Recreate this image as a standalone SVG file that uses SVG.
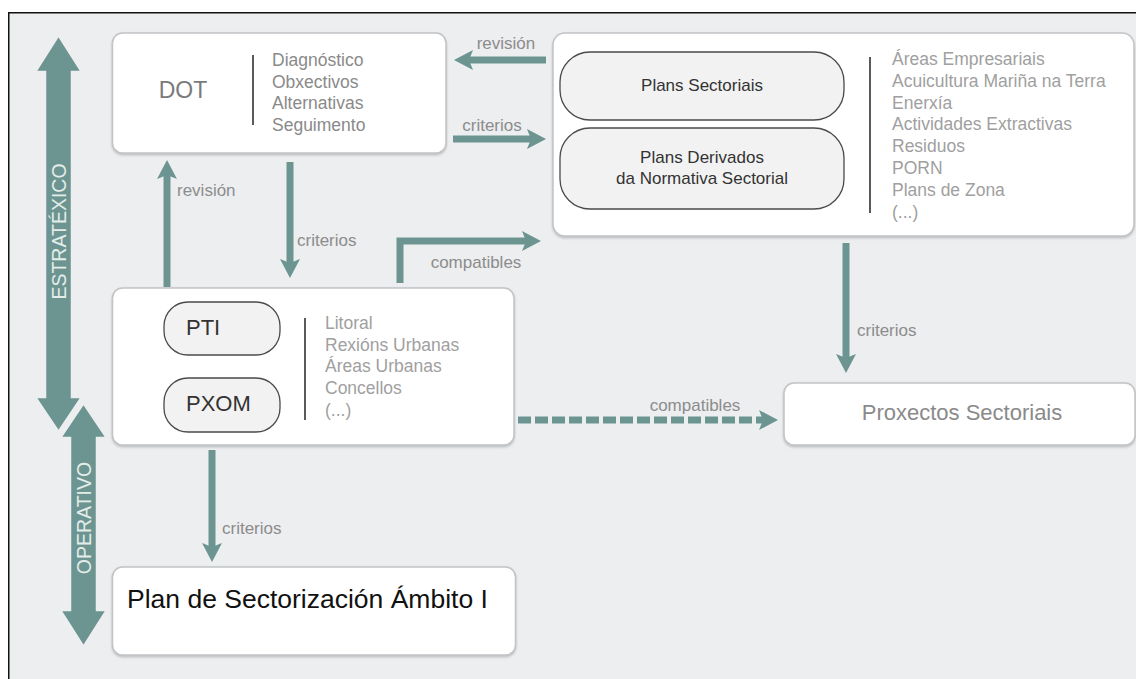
<svg xmlns="http://www.w3.org/2000/svg" width="1136" height="679" viewBox="0 0 1136 679">
<style>
.box{fill:#fff;stroke:#c2c4c6;stroke-width:1.5;filter:url(#sh)}
.pill{fill:#f2f2f2;stroke:#4a4a4a;stroke-width:1.3}
.sep{stroke:#5a5a5a;stroke-width:2}
.con{fill:none;stroke:#6c9591;stroke-width:7;marker-end:url(#ah)}
.dash{stroke-dasharray:13 4}
.lbl{font-family:"Liberation Sans",Arial,sans-serif;font-size:17px;fill:#8c8c8c}
.lst{font-family:"Liberation Sans",Arial,sans-serif;font-size:17.5px;fill:#a0a0a0}
.dk{font-family:"Liberation Sans",Arial,sans-serif;fill:#333}
.big{fill:#6c9591;stroke:#eceef0;stroke-width:2.5}
.vt{font-family:"Liberation Sans",Arial,sans-serif;font-size:19.5px;fill:#e4ecea;text-anchor:middle}
</style>
<defs>
<marker id="ah" markerUnits="userSpaceOnUse" markerWidth="19" markerHeight="20" viewBox="0 0 19 20" refX="4" refY="10" orient="auto">
<path d="M0,0 L19,10 L0,20 L4,10 z" fill="#6c9591"/>
</marker>
<filter id="sh" x="-5%" y="-5%" width="110%" height="120%">
<feDropShadow dx="0" dy="1.5" stdDeviation="1" flood-color="#8a8a8a" flood-opacity="0.5"/>
</filter>
</defs>
<rect x="0" y="0" width="1136" height="679" fill="#fff"/>
<rect x="8" y="12" width="1128" height="667" fill="#eceef0"/>
<path d="M8.75,679 V12.75 H1136" fill="none" stroke="#111" stroke-width="1.5"/>

<g id="axis-estratexico">
<polygon class="big" points="58.5,35 82,72 72,72 72,397 82,397 58.5,432 35,397 45,397 45,72 35,72"/>
<text class="vt" transform="translate(65.5,231.5) rotate(-90)">ESTRATÉXICO</text>
</g>
<g id="axis-operativo">
<polygon class="big" points="83.5,403 107,438 97,438 97,610 107,610 83.5,647 60,610 70,610 70,438 60,438"/>
<text class="vt" transform="translate(90.5,518) rotate(-90)">OPERATIVO</text>
</g>

<g id="connectors">
<line class="con" x1="546" y1="60" x2="469" y2="60"/>
<text class="lbl" x="506" y="49" text-anchor="middle">revisión</text>
<line class="con" x1="453" y1="139" x2="531" y2="139"/>
<text class="lbl" x="492" y="130.5" text-anchor="middle">criterios</text>
<line class="con" x1="290" y1="162" x2="290" y2="263"/>
<text class="lbl" x="297" y="245.5">criterios</text>
<line class="con" x1="167" y1="287" x2="167" y2="175"/>
<text class="lbl" x="177" y="195.5">revisión</text>
<path class="con" d="M400,283 V241 H526"/>
<text class="lbl" x="476" y="267.5" text-anchor="middle">compatibles</text>
<line class="con" x1="846" y1="243" x2="846" y2="358"/>
<text class="lbl" x="857" y="335.5">criterios</text>
<line class="con dash" x1="518" y1="420" x2="763" y2="420"/>
<text class="lbl" x="695" y="410.5" text-anchor="middle">compatibles</text>
<line class="con" x1="212" y1="450" x2="212" y2="547"/>
<text class="lbl" x="222" y="533.5">criterios</text>
</g>

<g id="dot">
<rect class="box" x="112.5" y="33" width="333.5" height="120" rx="10"/>
<text x="183" y="98" text-anchor="middle" font-family="Liberation Sans, Arial, sans-serif" font-size="23" fill="#7a7a7a">DOT</text>
<line class="sep" x1="253" y1="55" x2="253" y2="125"/>
<text class="lst" fill="#8a8a8a" style="fill:#8a8a8a"><tspan x="272" y="66">Diagnóstico</tspan><tspan x="272" y="87.5">Obxectivos</tspan><tspan x="272" y="109">Alternativas</tspan><tspan x="272" y="130.5">Seguimento</tspan></text>
</g>

<g id="sectorial">
<rect class="box" x="553" y="33" width="581" height="203" rx="12"/>
<rect class="pill" x="560" y="52" width="284" height="68" rx="30"/>
<text class="dk" x="702" y="91" text-anchor="middle" font-size="17">Plans Sectoriais</text>
<rect class="pill" x="560" y="128" width="284" height="81" rx="30"/>
<text class="dk" text-anchor="middle" font-size="17"><tspan x="702" y="163">Plans Derivados</tspan><tspan x="702" y="184">da Normativa Sectorial</tspan></text>
<line class="sep" x1="870" y1="57" x2="870" y2="213"/>
<text class="lst"><tspan x="892" y="65">Áreas Empresariais</tspan><tspan x="892" y="86.8">Acuicultura Mariña na Terra</tspan><tspan x="892" y="108.6">Enerxía</tspan><tspan x="892" y="130.4">Actividades Extractivas</tspan><tspan x="892" y="152.2">Residuos</tspan><tspan x="892" y="174">PORN</tspan><tspan x="892" y="195.8">Plans de Zona</tspan><tspan x="892" y="217.6">(...)</tspan></text>
</g>

<g id="pti-pxom">
<rect class="box" x="112.5" y="288" width="401.5" height="157" rx="10"/>
<rect class="pill" x="164" y="302" width="116" height="53" rx="24"/>
<text class="dk" x="186" y="335" font-size="22">PTI</text>
<rect class="pill" x="164" y="378" width="116" height="54" rx="24"/>
<text class="dk" x="186" y="411" font-size="22">PXOM</text>
<line class="sep" x1="305" y1="318" x2="305" y2="420"/>
<text class="lst"><tspan x="325" y="329">Litoral</tspan><tspan x="325" y="350.7">Rexións Urbanas</tspan><tspan x="325" y="372.4">Áreas Urbanas</tspan><tspan x="325" y="394.1">Concellos</tspan><tspan x="325" y="415.8">(...)</tspan></text>
</g>

<g id="proxectos">
<rect class="box" x="784" y="383" width="351" height="62" rx="10"/>
<text x="962" y="420" text-anchor="middle" font-family="Liberation Sans, Arial, sans-serif" font-size="22" fill="#8a8a8a">Proxectos Sectoriais</text>
</g>

<g id="plan-sectorizacion">
<rect class="box" x="112.5" y="567" width="403" height="88" rx="10"/>
<text x="127" y="608" font-family="Liberation Sans, Arial, sans-serif" font-size="26.5" fill="#111">Plan de Sectorización Ámbito I</text>
</g>
</svg>
